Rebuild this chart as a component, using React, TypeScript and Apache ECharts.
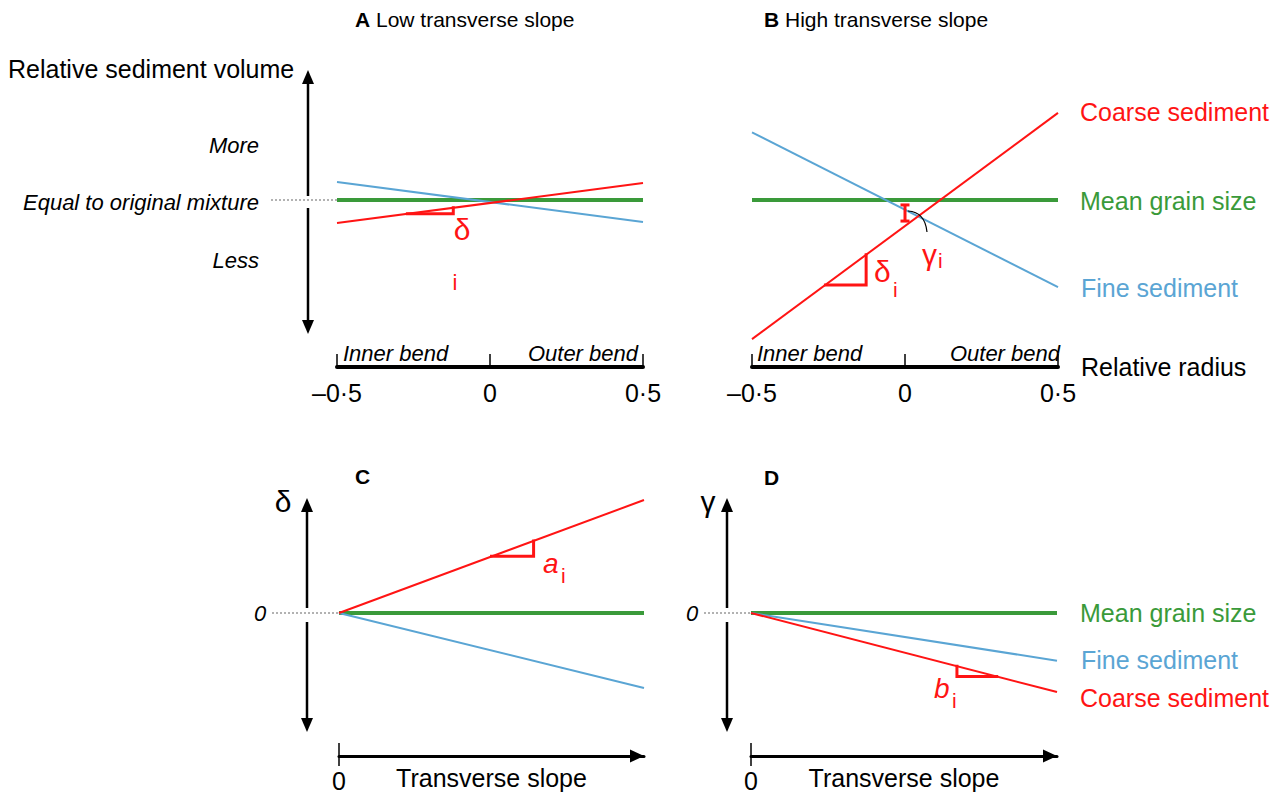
import React, { useEffect, useRef } from "react";
import * as echarts from "echarts";

// ---------- data ----------
const radiusRange = [-0.5, 0.5]; // relative radius (panels A, B)
const slopeRange = [0, 1]; // transverse slope (panels C, D)

// Panel A – low transverse slope: relative sediment volume at radius -0.5 and 0.5
const lowCoarse = [-0.177, 0.131];
const lowFine = [0.138, -0.169];
const lowMean = [0, 0];
const lowDeltaMarker = [
  [-0.27, -0.106],
  [-0.12, -0.106],
  [-0.12, -0.06],
];

// Panel B – high transverse slope
const highCoarse = [-1.07, 0.67];
const highFine = [0.52, -0.67];
const highMean = [0, 0];
const highDeltaMarker = [
  [-0.26, -0.654],
  [-0.127, -0.654],
  [-0.127, -0.421],
];
const gammaMarker = [
  [0, -0.038],
  [0, -0.162],
];

// Panel C – delta vs transverse slope
const deltaCoarse = [0, 0.869];
const deltaFine = [0, -0.577];
const deltaMean = [0, 0];
const aMarker = [
  [0.5, 0.436],
  [0.638, 0.436],
  [0.638, 0.554],
];

// Panel D – gamma vs transverse slope
const gammaCoarse = [0, -0.608];
const gammaFine = [0, -0.367];
const gammaMean = [0, 0];
const bMarker = [
  [0.673, -0.409],
  [0.673, -0.488],
  [0.803, -0.488],
];

// ---------- styles ----------
const RED = "#ff1414";
const BLUE = "#5aa5d4";
const GREEN = "#3a9a3a";
const FONT = "'Liberation Sans', Arial, Helvetica, sans-serif";

const pairs = (xs: number[], ys: number[]) => xs.map((x, i) => [x, ys[i]]);

function lineSeries(idx: number, data: number[][], color: string, width: number, z: number) {
  return {
    type: "line",
    xAxisIndex: idx,
    yAxisIndex: idx,
    data,
    showSymbol: false,
    symbol: "none",
    silent: true,
    z,
    lineStyle: { color, width, cap: "butt" },
  };
}

function markerSeries(idx: number, data: number[][]) {
  return {
    type: "line",
    xAxisIndex: idx,
    yAxisIndex: idx,
    data,
    showSymbol: false,
    symbol: "none",
    silent: true,
    z: 5,
    lineStyle: { color: RED, width: 3, cap: "square", join: "miter" },
  };
}

function txt(
  text: string,
  x: number,
  y: number,
  size: number,
  fill = "#000",
  align = "left",
  extra: any = {}
) {
  return {
    type: "text",
    x,
    y,
    z: 50,
    silent: true,
    style: {
      text,
      fontSize: size,
      fontFamily: FONT,
      fill,
      align,
      verticalAlign: "middle",
      ...extra,
    },
  };
}

function vArrow(x: number, top: number, gapTop: number, gapBottom: number, bottom: number) {
  const s = { stroke: "#000", lineWidth: 2.5 };
  return [
    { type: "line", z: 40, silent: true, shape: { x1: x, y1: top + 10, x2: x, y2: gapTop }, style: s },
    { type: "line", z: 40, silent: true, shape: { x1: x, y1: gapBottom, x2: x, y2: bottom - 10 }, style: s },
    {
      type: "polygon",
      z: 40,
      silent: true,
      shape: { points: [[x, top], [x - 6, top + 14], [x + 6, top + 14]] },
      style: { fill: "#000" },
    },
    {
      type: "polygon",
      z: 40,
      silent: true,
      shape: { points: [[x, bottom], [x - 6, bottom - 14], [x + 6, bottom - 14]] },
      style: { fill: "#000" },
    },
  ];
}

function dotted(x1: number, x2: number, y: number) {
  return {
    type: "line",
    z: 40,
    silent: true,
    shape: { x1, y1: y, x2, y2: y },
    style: { stroke: "#999", lineWidth: 1.5, lineDash: [2, 2] },
  };
}

const radiusFormatter = (v: number) => {
  if (v === 0) return "0";
  return (v < 0 ? "–" : "") + Math.abs(v).toString().replace(".", "·");
};

function radiusAxis(idx: number, withName: boolean) {
  return {
    type: "value",
    gridIndex: idx,
    min: radiusRange[0],
    max: radiusRange[1],
    interval: 0.5,
    position: "bottom",
    offset: 11,
    splitLine: { show: false },
    axisLine: { show: true, onZero: false, lineStyle: { color: "#000", width: 4 } },
    axisTick: { show: true, inside: true, length: 13, lineStyle: { color: "#000", width: 1.5 } },
    axisLabel: {
      show: true,
      fontSize: 25,
      fontFamily: FONT,
      color: "#000",
      margin: 13,
      formatter: radiusFormatter,
    },
    ...(withName
      ? {
          name: "Relative radius",
          nameLocation: "end",
          nameGap: 23,
          nameMoveOverlap: false,
          nameTextStyle: {
            fontSize: 25,
            fontFamily: FONT,
            color: "#000",
            verticalAlign: "middle",
            padding: [0, 0, 6, 0],
          },
        }
      : {}),
  };
}

function slopeAxis(idx: number) {
  return {
    type: "value",
    gridIndex: idx,
    min: slopeRange[0],
    max: slopeRange[1],
    interval: 1,
    position: "bottom",
    splitLine: { show: false },
    axisLine: {
      show: true,
      onZero: false,
      lineStyle: { color: "#000", width: 3 },
      symbol: ["none", "triangle"],
      symbolSize: [13, 14],
      symbolOffset: [0, -7],
    },
    axisTick: { show: false },
    axisLabel: {
      show: true,
      customValues: [0],
      fontSize: 25,
      fontFamily: FONT,
      color: "#000",
      margin: 12,
      formatter: (v: number) => (v === 0 ? "0" : ""),
    },
    name: "Transverse slope",
    nameLocation: "middle",
    nameGap: 9,
    nameMoveOverlap: false,
    nameTextStyle: { fontSize: 25, fontFamily: FONT, color: "#000", verticalAlign: "top" },
  };
}

export default function App() {
  const ref = useRef<HTMLDivElement>(null);

  useEffect(() => {
    if (!ref.current) return;
    const chart = echarts.init(ref.current, undefined, { renderer: "svg" });

    const graphics: any[] = [
      // titles
      txt("{b|A} Low transverse slope", 355, 19, 21, "#000", "left", {
        rich: { b: { fontWeight: "bold", fontSize: 21, fontFamily: FONT } },
      }),
      txt("{b|B} High transverse slope", 764, 19, 21, "#000", "left", {
        rich: { b: { fontWeight: "bold", fontSize: 21, fontFamily: FONT } },
      }),
      txt("C", 355, 476, 21, "#000", "left", { fontWeight: "bold" }),
      txt("D", 764, 477, 21, "#000", "left", { fontWeight: "bold" }),

      // panel A y annotations
      txt("Relative sediment volume", 8, 69, 25),
      txt("More", 259, 145, 22, "#000", "right", { fontStyle: "italic" }),
      txt("Equal to original mixture", 259, 202, 22, "#000", "right", { fontStyle: "italic" }),
      txt("Less", 259, 260, 22, "#000", "right", { fontStyle: "italic" }),
      ...vArrow(308, 70, 196, 208, 334),
      dotted(271, 337, 200),

      // bend labels
      txt("Inner bend", 343, 353, 22, "#000", "left", { fontStyle: "italic" }),
      txt("Outer bend", 638, 353, 22, "#000", "right", { fontStyle: "italic" }),
      txt("Inner bend", 757, 353, 22, "#000", "left", { fontStyle: "italic" }),
      txt("Outer bend", 1060, 353, 22, "#000", "right", { fontStyle: "italic" }),

      // panel A delta label
      txt("δ", 462, 229, 30, RED, "center"),
      txt("i", 455, 282, 22, RED, "center"),

      // panel B labels
      txt("Coarse sediment", 1080, 112, 25, RED),
      txt("Mean grain size", 1080, 201, 25, GREEN),
      txt("Fine sediment", 1081, 288, 25, BLUE),
      txt("δ", 874, 271, 30, RED),
      txt("i", 893, 289, 21, RED),
      txt("γ", 922, 254, 30, RED),
      txt("i", 938, 260, 21, RED),
      {
        type: "bezierCurve",
        z: 40,
        silent: true,
        shape: { x1: 908, y1: 211, cpx1: 925, cpy1: 212, x2: 927, y2: 232 },
        style: { stroke: "#000", lineWidth: 1.2, fill: "none" },
      },

      // panel C
      txt("δ", 283, 501, 30, "#000", "center"),
      ...vArrow(307, 498, 608, 622, 732),
      txt("0", 260, 613, 22, "#000", "center", { fontStyle: "italic" }),
      dotted(272, 339, 613),
      txt("a", 543, 563, 28, RED, "left", { fontStyle: "italic" }),
      txt("i", 561, 575, 21, RED),
      {
        type: "line",
        z: 40,
        silent: true,
        shape: { x1: 339, y1: 743, x2: 339, y2: 766 },
        style: { stroke: "#000", lineWidth: 1.5 },
      },

      // panel D
      txt("γ", 708, 501, 30, "#000", "center"),
      ...vArrow(727, 498, 608, 622, 732),
      txt("0", 692, 613, 22, "#000", "center", { fontStyle: "italic" }),
      dotted(704, 751, 613),
      txt("b", 934, 688, 28, RED, "left", { fontStyle: "italic" }),
      txt("i", 952, 700, 21, RED),
      txt("Mean grain size", 1080, 613, 25, GREEN),
      txt("Fine sediment", 1081, 660, 25, BLUE),
      txt("Coarse sediment", 1080, 698, 25, RED),
      {
        type: "line",
        z: 40,
        silent: true,
        shape: { x1: 751, y1: 743, x2: 751, y2: 766 },
        style: { stroke: "#000", lineWidth: 1.5 },
      },
    ];

    const g = (left: number, top: number, width: number, height: number) => ({
      left,
      top,
      width,
      height,
      containLabel: false,
      outerBoundsMode: "none",
    });

    const option: any = {
      animation: false,
      backgroundColor: "#fff",
      textStyle: { fontFamily: FONT },
      grid: [g(337, 44, 306, 312), g(752, 44, 306, 312), g(339, 457, 305, 299), g(751, 457, 306, 299)],
      xAxis: [radiusAxis(0, false), radiusAxis(1, true), slopeAxis(2), slopeAxis(3)],
      yAxis: [
        { type: "value", gridIndex: 0, min: -1.2, max: 1.2, show: false },
        { type: "value", gridIndex: 1, min: -1.2, max: 1.2, show: false },
        { type: "value", gridIndex: 2, min: -1.1, max: 1.2, show: false },
        { type: "value", gridIndex: 3, min: -1.1, max: 1.2, show: false },
      ],
      series: [
        lineSeries(0, pairs(radiusRange, lowMean), GREEN, 4, 2),
        lineSeries(0, pairs(radiusRange, lowFine), BLUE, 2, 3),
        lineSeries(0, pairs(radiusRange, lowCoarse), RED, 2, 4),
        markerSeries(0, lowDeltaMarker),

        lineSeries(1, pairs(radiusRange, highMean), GREEN, 4, 2),
        lineSeries(1, pairs(radiusRange, highFine), BLUE, 2, 3),
        lineSeries(1, pairs(radiusRange, highCoarse), RED, 2, 4),
        markerSeries(1, highDeltaMarker),
        {
          type: "line",
          xAxisIndex: 1,
          yAxisIndex: 1,
          data: gammaMarker,
          symbol: "rect",
          symbolSize: [9, 3],
          showSymbol: true,
          silent: true,
          z: 6,
          itemStyle: { color: RED },
          lineStyle: { color: RED, width: 3 },
        },

        lineSeries(2, pairs(slopeRange, deltaMean), GREEN, 4, 2),
        lineSeries(2, pairs(slopeRange, deltaFine), BLUE, 2, 3),
        lineSeries(2, pairs(slopeRange, deltaCoarse), RED, 2, 4),
        markerSeries(2, aMarker),

        lineSeries(3, pairs(slopeRange, gammaMean), GREEN, 4, 2),
        lineSeries(3, pairs(slopeRange, gammaFine), BLUE, 2, 3),
        lineSeries(3, pairs(slopeRange, gammaCoarse), RED, 2, 4),
        markerSeries(3, bMarker),
      ],
      graphic: graphics,
    };

    chart.setOption(option);
    return () => chart.dispose();
  }, []);

  return (
    <div
      ref={ref}
      style={{ position: "absolute", left: 0, top: 0, width: 1285, height: 793, background: "#fff" }}
    />
  );
}
